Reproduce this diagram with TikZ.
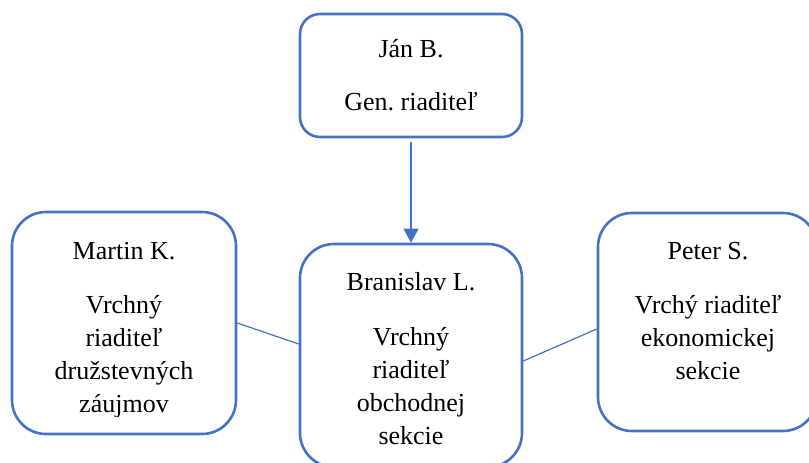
\documentclass[tikz,border=0pt]{standalone}
\usepackage{fontspec}
\setmainfont{Liberation Serif}
\usetikzlibrary{arrows.meta,calc}
\definecolor{boxblue}{HTML}{4472C4}
\newcommand{\desclines}[1]{\begin{tabular}[t]{@{}c@{}}#1\end{tabular}}
\tikzset{
  orgbox/.style={draw=boxblue, line width=2.6pt, fill=white, rectangle, inner sep=0pt},
  nametext/.style={anchor=base, inner sep=0pt, font=\fontsize{26}{33}\selectfont},
  desctext/.style={anchor=base, inner sep=0pt, font=\fontsize{26}{33}\selectfont},
  link/.style={draw=boxblue, line width=1.2pt}
}
\frenchspacing
\begin{document}
\begin{tikzpicture}[x=1pt,y=-1pt]
\useasboundingbox (0,0) rectangle (809,463);
\clip (0,0) rectangle (809,463);
% boxes
\node[orgbox, rounded corners=20pt, minimum width=222pt, minimum height=123pt] (jan) at (411,75.5) {};
\node[orgbox, rounded corners=34pt, minimum width=224pt, minimum height=222pt] (martin) at (124,323) {};
\node[orgbox, rounded corners=34pt, minimum width=222pt, minimum height=223pt] (bran) at (411,355.5) {};
\node[orgbox, rounded corners=34pt, minimum width=219pt, minimum height=218pt] (peter) at (707.5,322) {};
% texts
\node[nametext] (janname) at (411,57) {Ján B.};
\node[nametext] (jandesc) at (411,110) {Gen. riaditeľ};
\node[nametext] (martinname) at (124,259) {Martin K.};
\begin{scope}
\clip (12,290) rectangle (236,416);
\node[desctext] (martindesc) at (124,313) {\desclines{Vrchný\\riaditeľ\\družstevných\\záujmov}};
\end{scope}
\node[nametext] (branname) at (411,290) {Branislav L.};
\node[desctext] (brandesc) at (411,345) {\desclines{Vrchný\\riaditeľ\\obchodnej\\sekcie}};
\node[nametext] (petername) at (708,259) {Peter S.};
\node[desctext] (peterdesc) at (708,313) {\desclines{Vrchý riaditeľ\\ekonomickej\\sekcie}};
% connectors
\draw[link, -{Triangle[width=15pt,length=14pt]}] ([yshift=-4pt]jan.south -| bran.north) -- (bran.north);
\draw[link] (martin.east) -- ([yshift=11.5pt]bran.west);
\draw[link] ([yshift=-5.5pt]bran.east) -- ([yshift=-7pt]peter.west);
\end{tikzpicture}
\end{document}
